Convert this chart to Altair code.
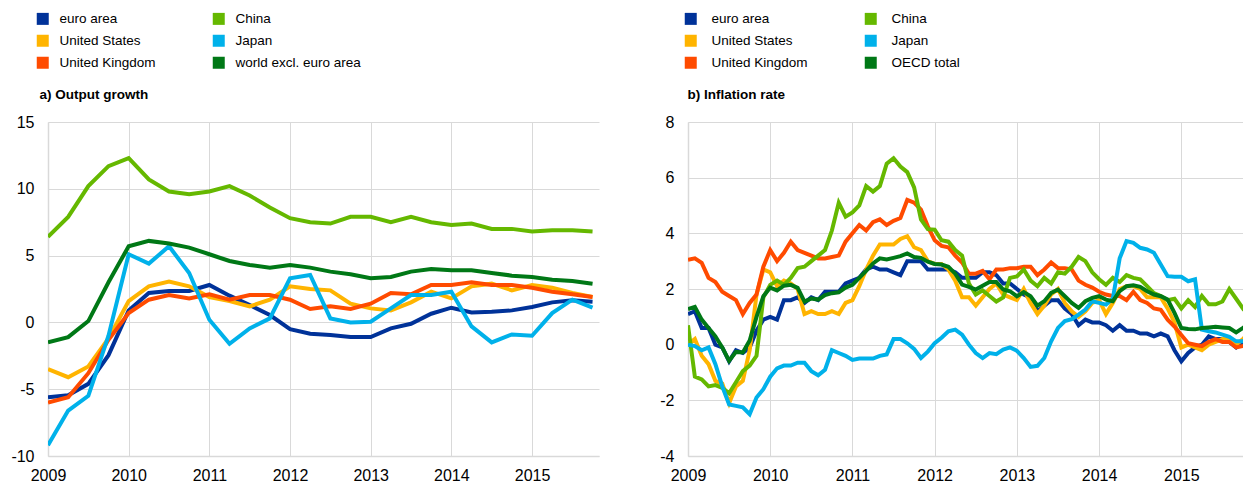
import altair as alt
import pandas as pd

FONT = "Liberation Sans"

# ---------------- panel a) output growth (quarterly, 2009Q1-2015Q4) ----------------
quarters = [f"{y}Q{q}" for y in range(2009, 2016) for q in range(1, 5)]

gdp_euro = [-5.6, -5.45, -4.6, -2.45, 0.9, 2.2, 2.35, 2.35, 2.8, 2.0, 1.3, 0.55, -0.5, -0.85,
            -0.95, -1.1, -1.1, -0.45, -0.1, 0.65, 1.1, 0.75, 0.8, 0.9, 1.15, 1.5, 1.65, 1.55]
gdp_us = [-3.5, -4.1, -3.3, -1.2, 1.6, 2.7, 3.05, 2.7, 1.9, 1.6, 1.2, 1.7, 2.7, 2.5,
          2.4, 1.4, 1.05, 0.9, 1.5, 2.3, 1.8, 2.7, 2.9, 2.4, 2.8, 2.6, 2.2, 1.9]
gdp_uk = [-6.0, -5.6, -3.8, -1.3, 0.7, 1.7, 2.05, 1.8, 2.1, 1.7, 2.05, 2.05, 1.7, 1.0,
          1.2, 1.0, 1.4, 2.2, 2.1, 2.8, 2.8, 3.0, 2.8, 2.8, 2.6, 2.3, 2.1, 1.9]
gdp_china = [6.4, 7.9, 10.2, 11.7, 12.3, 10.7, 9.8, 9.6, 9.8, 10.2, 9.5, 8.6, 7.8, 7.5,
             7.4, 7.9, 7.9, 7.5, 7.9, 7.5, 7.3, 7.4, 7.0, 7.0, 6.8, 6.9, 6.9, 6.8]
gdp_japan = [-9.2, -6.6, -5.5, -1.0, 5.1, 4.4, 5.7, 3.7, 0.2, -1.6, -0.45, 0.3, 3.3, 3.55,
             0.3, 0.0, 0.05, 1.05, 2.05, 2.05, 2.3, -0.3, -1.5, -0.9, -1.0, 0.7, 1.7, 1.1]
gdp_world = [-1.5, -1.1, 0.1, 3.0, 5.7, 6.1, 5.9, 5.6, 5.1, 4.6, 4.3, 4.1, 4.3, 4.1,
             3.8, 3.6, 3.3, 3.4, 3.8, 4.0, 3.9, 3.9, 3.7, 3.5, 3.4, 3.2, 3.1, 2.9]

# ---------------- panel b) inflation rate (monthly, Jan 2009 - Nov 2015) ----------------
months = [f"{y}-{m:02d}" for y in range(2009, 2016) for m in range(1, 13)][:83]

inf_euro = [1.1, 1.2, 0.6, 0.6, 0.0, -0.1, -0.6, -0.2, -0.3, -0.1, 0.5, 0.9,
            1.0, 0.9, 1.6, 1.6, 1.7, 1.5, 1.7, 1.6, 1.9, 1.9, 1.9, 2.2,
            2.3, 2.4, 2.7, 2.8, 2.7, 2.7, 2.6, 2.5, 3.0, 3.0, 3.0, 2.7,
            2.7, 2.7, 2.7, 2.6, 2.4, 2.4, 2.4, 2.6, 2.6, 2.5, 2.2, 2.2,
            2.0, 1.8, 1.7, 1.2, 1.4, 1.6, 1.6, 1.3, 1.1, 0.7, 0.9, 0.8,
            0.8, 0.7, 0.5, 0.7, 0.5, 0.5, 0.4, 0.4, 0.3, 0.4, 0.3, -0.2,
            -0.6, -0.3, -0.1, 0.0, 0.3, 0.2, 0.2, 0.1, -0.1, 0.1, 0.1]
inf_us = [0.0, 0.2, -0.4, -0.7, -1.3, -1.4, -2.1, -1.5, -1.3, -0.2, 1.8, 2.7,
          2.6, 2.1, 2.3, 2.2, 2.0, 1.1, 1.2, 1.1, 1.1, 1.2, 1.1, 1.5,
          1.6, 2.1, 2.7, 3.2, 3.6, 3.6, 3.6, 3.8, 3.9, 3.5, 3.4, 3.0,
          2.9, 2.9, 2.7, 2.3, 1.7, 1.7, 1.4, 1.7, 2.0, 2.2, 1.8, 1.7,
          1.6, 2.0, 1.5, 1.1, 1.4, 1.8, 2.0, 1.5, 1.2, 1.0, 1.2, 1.5,
          1.6, 1.1, 1.5, 2.0, 2.1, 2.1, 2.0, 1.7, 1.7, 1.7, 1.3, 0.8,
          -0.1, 0.0, -0.1, -0.2, 0.0, 0.1, 0.2, 0.2, 0.0, 0.2, 0.5]
inf_uk = [3.05, 3.1, 2.94, 2.4, 2.25, 1.9, 1.75, 1.6, 1.1, 1.5, 1.8, 2.8,
          3.4, 3.0, 3.3, 3.7, 3.4, 3.3, 3.2, 3.1, 3.1, 3.15, 3.2, 3.7,
          4.0, 4.3, 4.1, 4.4, 4.5, 4.3, 4.45, 4.55, 5.2, 5.1, 4.85, 4.25,
          3.75, 3.55, 3.5, 3.2, 2.95, 2.55, 2.55, 2.65, 2.35, 2.7, 2.7, 2.75,
          2.75, 2.8, 2.8, 2.5, 2.7, 2.95, 2.75, 2.75, 2.7, 2.3, 2.15, 2.05,
          1.9, 1.8, 1.75, 1.75, 1.6, 1.9, 1.6, 1.5, 1.3, 1.25, 0.9, 0.65,
          0.35, 0.05, 0.0, -0.05, 0.1, 0.2, 0.1, 0.1, -0.1, -0.05, 0.1]
inf_china = [0.7, -1.15, -1.25, -1.5, -1.45, -1.55, -1.75, -1.35, -0.95, -0.75, -0.4, 1.7,
             2.15, 2.3, 2.15, 2.4, 2.75, 2.8, 3.0, 3.2, 3.4, 4.1, 5.1, 4.6,
             4.75, 5.0, 5.7, 5.5, 5.7, 6.5, 6.7, 6.4, 6.2, 5.65, 4.5, 4.15,
             4.13, 3.75, 3.7, 3.4, 3.2, 2.2, 1.8, 1.95, 1.75, 1.55, 1.7, 2.4,
             2.45, 2.7, 2.3, 2.1, 2.4, 2.2, 2.6, 2.55, 2.8, 3.15, 3.0, 2.6,
             2.35, 2.15, 2.4, 2.25, 2.5, 2.4, 2.35, 2.1, 1.85, 1.75, 1.6, 1.65,
             1.3, 1.6, 1.35, 1.75, 1.45, 1.45, 1.55, 2.0, 1.65, 1.3, 1.5]
inf_japan = [0.0, -0.05, -0.2, -0.1, -0.7, -1.5, -2.15, -2.2, -2.25, -2.5, -1.9, -1.6,
             -1.15, -0.85, -0.75, -0.75, -0.65, -0.65, -0.95, -1.1, -0.9, -0.2, -0.3, -0.4,
             -0.55, -0.5, -0.5, -0.5, -0.4, -0.35, 0.2, 0.2, 0.05, -0.15, -0.48, -0.25,
             0.05, 0.25, 0.48, 0.54, 0.36, 0.0, -0.3, -0.48, -0.3, -0.34, -0.18, -0.1,
             -0.22, -0.48, -0.8, -0.76, -0.48, 0.12, 0.6, 0.85, 0.92, 1.08, 1.26, 1.56,
             1.5, 1.44, 1.65, 3.1, 3.72, 3.66, 3.48, 3.42, 3.3, 2.88, 2.46, 2.44,
             2.44, 2.28, 2.35, 0.54, 0.48, 0.44, 0.36, 0.28, 0.12, 0.12, 0.3]
inf_oecd = [1.28, 1.36, 0.9, 0.6, 0.3, -0.1, -0.58, -0.26, -0.28, 0.15, 1.0, 1.74,
            2.05, 1.95, 2.12, 2.15, 2.04, 1.55, 1.66, 1.62, 1.78, 1.85, 1.88, 2.05,
            2.15, 2.4, 2.65, 2.92, 3.1, 3.06, 3.12, 3.18, 3.28, 3.15, 3.12, 2.98,
            2.9, 2.88, 2.8, 2.55, 2.16, 2.08, 1.98, 2.12, 2.25, 2.25, 1.98, 1.92,
            1.74, 1.89, 1.74, 1.4, 1.56, 1.86, 1.98, 1.74, 1.5, 1.32, 1.56, 1.68,
            1.74, 1.62, 1.56, 1.92, 2.1, 2.13, 2.08, 1.92, 1.8, 1.74, 1.62, 1.14,
            0.6, 0.56, 0.55, 0.6, 0.62, 0.64, 0.62, 0.6, 0.44, 0.6, 0.78]

years = [2009, 2010, 2011, 2012, 2013, 2014, 2015]

C_EURO, C_US, C_UK = "#003299", "#FFB400", "#FF4B00"
C_CHINA, C_JAPAN, C_WORLD = "#65B800", "#00B1EA", "#007816"


def quarter_pos(q):
    return int(q[:4]) + (int(q[5]) - 1) / 4


def month_pos(m):
    return int(m[:4]) + (int(m[5:7]) - 1) / 12


def long_df(periods, posfunc, series):
    rows = []
    for name, vals in series:
        for p, v in zip(periods, vals):
            rows.append({"period": p, "t": posfunc(p), "v": v, "series": name})
    return pd.DataFrame(rows)


names_a = ["euro area", "United States", "United Kingdom", "China", "Japan", "world excl. euro area"]
names_b = ["euro area", "United States", "United Kingdom", "China", "Japan", "OECD total"]
palette = [C_EURO, C_US, C_UK, C_CHINA, C_JAPAN, C_WORLD]

df_a = long_df(quarters, quarter_pos, list(zip(names_a, [gdp_euro, gdp_us, gdp_uk, gdp_china, gdp_japan, gdp_world])))
df_b = long_df(months, month_pos, list(zip(names_b, [inf_euro, inf_us, inf_uk, inf_china, inf_japan, inf_oecd])))


def panel(df, names, xdom, ydom, yvals, title, lx, loff, width, height):
    legend = alt.Legend(
        orient="none", legendX=lx - 3, legendY=-110, columns=2, title=None,
        symbolType="square", symbolSize=36, symbolStrokeWidth=6,
        labelFont=FONT, labelFontSize=13.5, labelColor="#000000", labelOffset=loff,
        columnPadding=47, rowPadding=-9,
    )
    return alt.Chart(df).mark_line(clip=True).encode(
        x=alt.X("t:Q", scale=alt.Scale(domain=xdom, nice=False, zero=False),
                axis=alt.Axis(values=years, format="d", title=None, labelPadding=11,
                              labelFlush=False)),
        y=alt.Y("v:Q", scale=alt.Scale(domain=ydom, nice=False, zero=False),
                axis=alt.Axis(values=yvals, labelExpr="datum.value", labelPadding=14,
                              title=title, titleAngle=0,
                              titleAlign="left", titleBaseline="alphabetic",
                              titleX=lx, titleY=-24, titleFont=FONT, titleFontSize=13.5,
                              titleFontWeight="bold", titleColor="#000000")),
        color=alt.Color("series:N", scale=alt.Scale(domain=names, range=palette), legend=legend),
        strokeWidth=alt.value(4),
    ).properties(width=width, height=height)


left = panel(df_a, names_a, [2009, 2015.83], [-10, 15], [-10, -5, 0, 5, 10, 15],
             "a) Output growth", -9, 10, 551, 334)
right = panel(df_b, names_b, [2009, 2015.75], [-4, 8], [-4, -2, 0, 2, 4, 6, 8],
              "b) Inflation rate", -1, 14, 555, 334)

chart = alt.hconcat(left, right, spacing=60).resolve_scale(
    color="independent").resolve_legend(color="independent").properties(
    padding={"left": 2, "top": 4, "right": 0, "bottom": 0}
).configure_view(stroke=None).configure_axis(
    labelFont=FONT, labelFontSize=16, labelColor="#000000",
    grid=True, gridColor="#d9d9d9", gridWidth=1,
    domain=True, domainColor="#d9d9d9", domainWidth=1.5,
    ticks=False,
)

chart.save("out.html", embed_options={"renderer": "svg", "actions": False})
